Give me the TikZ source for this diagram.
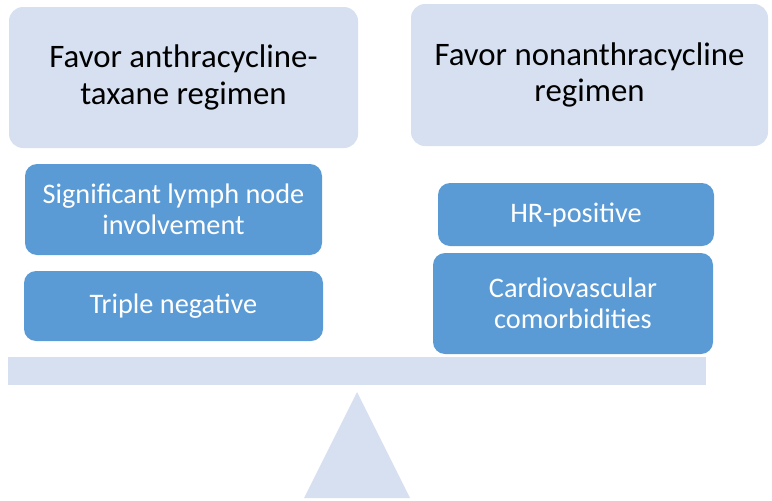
\documentclass[tikz,border=0pt]{standalone}
\usepackage{fontspec}
\setmainfont{Carlito}
\definecolor{lightbox}{HTML}{D6E0F0}
\definecolor{bluebox}{HTML}{5B9BD5}
\begin{document}
\begin{tikzpicture}[x=1pt,y=-1pt,
  headbox/.style={fill=lightbox,draw=none,rounded corners=14pt,inner sep=0pt,outer sep=0pt,
    align=center,text=black,font=\fontsize{32.8}{36.5}\selectfont},
  factor/.style={fill=bluebox,draw=none,rounded corners=12pt,inner sep=0pt,outer sep=0pt,
    align=center,text=white,font=\fontsize{28.3}{30.5}\selectfont},
  plain/.style={fill=lightbox,draw=none}]
\useasboundingbox (0,0) rectangle (772,501);
\node[headbox,minimum width=349pt,minimum height=141pt] (tl) at (183.5,77.5) {Favor anthracycline-\\taxane regimen};
\node[headbox,minimum width=357pt,minimum height=142pt] (tr) at (589.5,75) {Favor nonanthracycline\\regimen};
\node[factor,minimum width=297pt,minimum height=91pt] (b1) at (173.5,209.5) {Significant lymph node\\involvement};
\node[factor,minimum width=299pt,minimum height=70pt] (b2) at (173.5,306) {Triple negative};
\node[factor,minimum width=276pt,minimum height=63pt] (hr) at (576,214.5) {HR-positive};
\node[factor,minimum width=280pt,minimum height=101pt] (cv) at (573,303.5) {Cardiovascular\\comorbidities};
\node[plain,minimum width=698pt,minimum height=28pt,inner sep=0pt,outer sep=0pt] (beam) at (357,371) {};
\fill[lightbox] (357,392) -- (410,498) -- (304,498) -- cycle;
\end{tikzpicture}
\end{document}
